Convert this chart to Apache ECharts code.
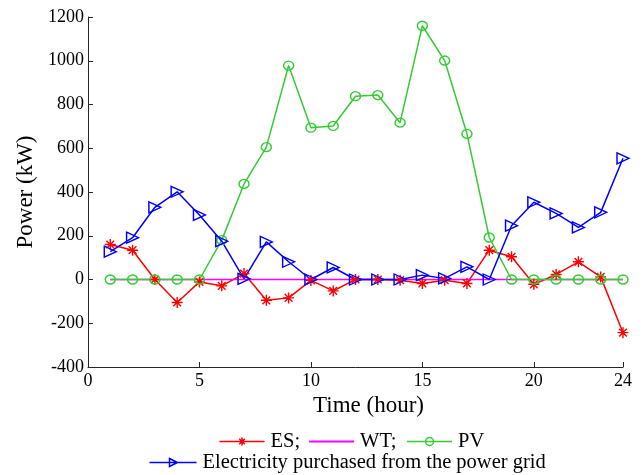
<!DOCTYPE html>
<html>
<head>
<meta charset="utf-8">
<script src="https://cdn.jsdelivr.net/npm/echarts@6/dist/echarts.min.js"></script>
<style>
  html, body { margin: 0; padding: 0; background: #fff; }
  #chart { width: 644px; height: 475px; }
</style>
</head>
<body>
<div id="chart"></div>
<script>
// Hourly power balance of the microgrid (kW)
const hours = [1, 2, 3, 4, 5, 6, 7, 8, 9, 10, 11, 12, 13, 14, 15, 16, 17, 18, 19, 20, 21, 22, 23, 24];
const esPower = [160, 134, 0, -105, -11, -29, 27, -95, -84, -4, -52, 0, 0, -3, -18, -3, -18, 134, 104, -22, 23, 81, 12, -243];
const wtPower = [0, 0, 0, 0, 0, 0, 0, 0, 0, 0, 0, 0, 0, 0, 0, 0, 0, 0, 0, 0, 0, 0, 0, 0];
const pvPower = [0, 0, 0, 0, 0, 180, 437, 605, 978, 694, 702, 838, 843, 717, 1160, 1001, 666, 192, 0, 0, 0, 0, 0, 0];
const gridPower = [127, 191, 330, 401, 295, 175, 3, 172, 81, 0, 55, 0, 0, 0, 20, 5, 58, 0, 246, 353, 302, 238, 307, 554];
const xTicks = [0, 5, 10, 15, 20, 24];

const FONT = '"Liberation Serif", "Times New Roman", serif';
const AXIS_COLOR = '#262626';
const RED = '#ff0000', MAGENTA = '#ff00ff', GREEN = '#33cc33', BLUE = '#0000ff';

// plot markers
const starPath = 'path://M0,-10L0,10M-10,0L10,0M-7,-7L7,7M-7,7L7,-7';
const trianglePath = 'path://M0,0L10,5L0,10Z';

// legend keys: line segment with the marker in its middle
const starKey = 'path://M0,5L45,5M22.5,1L22.5,9M18.5,5L26.5,5M19.7,2.2L25.3,7.8M19.7,7.8L25.3,2.2';
const circleKey = 'path://M0,5L45,5M18.5,5A4,4,0,1,1,26.5,5A4,4,0,1,1,18.5,5';
const triangleKey = 'path://M0,5L47,5M20,1L28,5L20,9Z';

const pairs = ys => hours.map((h, i) => [h, ys[i]]);
const hollow = c => ({ color: 'rgba(255,255,255,0)', borderColor: c, borderWidth: 1.4 });
const keyStyle = c => ({ color: 'none', borderColor: c, borderWidth: 1.5 });

const chart = echarts.init(document.getElementById('chart'), null, { renderer: 'canvas' });

const legendText = { fontFamily: FONT, fontSize: 20.5, color: '#000', padding: [0, 0, 0, 1] };

chart.setOption({
  animation: false,
  backgroundColor: '#fff',
  grid: { left: 88, right: 21, top: 17, bottom: 108, containLabel: false },
  xAxis: {
    type: 'value',
    min: 0,
    max: 24,
    name: 'Time (hour)',
    nameLocation: 'middle',
    nameGap: 22,
    nameTextStyle: { fontFamily: FONT, fontSize: 23, color: '#000', padding: [0, 0, 0, 26] },
    axisLine: { show: true, onZero: false, lineStyle: { color: AXIS_COLOR, width: 1 } },
    axisTick: { show: true, inside: true, length: 5, customValues: xTicks, lineStyle: { color: AXIS_COLOR } },
    axisLabel: { customValues: xTicks, fontFamily: FONT, fontSize: 18, color: '#000', margin: 5 },
    splitLine: { show: false }
  },
  yAxis: {
    type: 'value',
    min: -400,
    max: 1200,
    interval: 200,
    name: 'Power (kW)',
    nameLocation: 'middle',
    nameGap: 50,
    nameTextStyle: { fontFamily: FONT, fontSize: 23, color: '#000' },
    axisLine: { show: true, lineStyle: { color: AXIS_COLOR, width: 1 } },
    axisTick: { show: true, inside: true, length: 5, lineStyle: { color: AXIS_COLOR } },
    axisLabel: { fontFamily: FONT, fontSize: 18, color: '#000', margin: 4, formatter: v => String(v) },
    splitLine: { show: false }
  },
  legend: [
    {
      data: [
        { name: 'ES;', icon: starKey, itemStyle: keyStyle(RED) },
        { name: 'WT;', itemStyle: { opacity: 0 } },
        { name: 'PV', icon: circleKey, itemStyle: keyStyle(GREEN) }
      ],
      top: 426,
      left: 212,
      itemWidth: 45,
      itemHeight: 10,
      itemGap: 8,
      textStyle: legendText
    },
    {
      data: [{ name: 'Electricity purchased from the power grid', icon: triangleKey, itemStyle: keyStyle(BLUE) }],
      top: 447,
      left: 142,
      itemWidth: 47,
      itemHeight: 10,
      textStyle: legendText
    }
  ],
  series: [
    {
      name: 'ES;',
      type: 'line',
      data: pairs(esPower),
      symbol: starPath,
      symbolSize: 11,
      lineStyle: { color: RED, width: 1.5 },
      itemStyle: hollow(RED)
    },
    {
      name: 'WT;',
      type: 'line',
      data: pairs(wtPower),
      symbol: 'none',
      lineStyle: { color: MAGENTA, width: 1.5 },
      itemStyle: { color: MAGENTA }
    },
    {
      name: 'PV',
      type: 'line',
      data: pairs(pvPower),
      symbol: 'circle',
      symbolSize: [10, 9],
      lineStyle: { color: GREEN, width: 1.5 },
      itemStyle: hollow(GREEN)
    },
    {
      name: 'Electricity purchased from the power grid',
      type: 'line',
      data: pairs(gridPower),
      symbol: trianglePath,
      symbolSize: [12, 11],
      lineStyle: { color: BLUE, width: 1.5 },
      itemStyle: hollow(BLUE)
    }
  ]
});
</script>
</body>
</html>
